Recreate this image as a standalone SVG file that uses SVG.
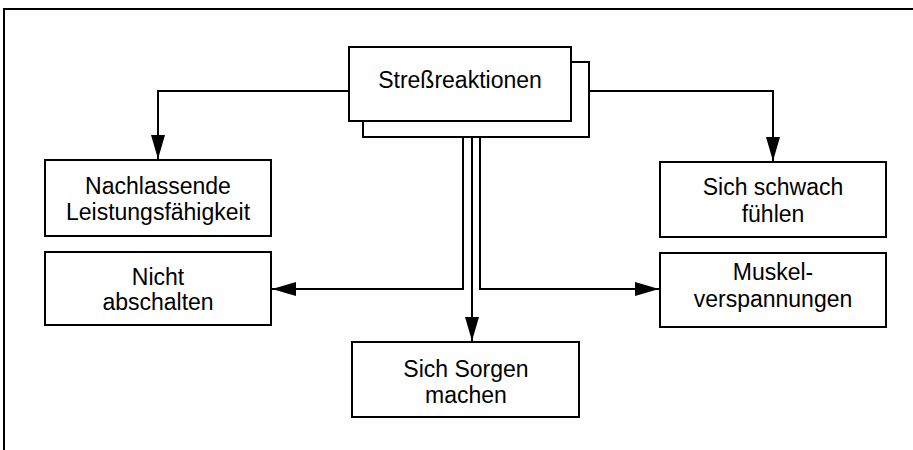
<svg xmlns="http://www.w3.org/2000/svg" width="913" height="450" viewBox="0 0 913 450">
<defs>
<style>
.box{fill:#fff;stroke:#000;stroke-width:2}
.ln{fill:none;stroke:#000;stroke-width:2}
text{font-family:"Liberation Sans",Arial,sans-serif;font-size:23px;fill:#000;text-anchor:middle}
</style>
<marker id="ah" viewBox="0 0 24 14" refX="24" refY="7" markerWidth="24" markerHeight="14" markerUnits="userSpaceOnUse" orient="auto">
<path d="M0,0 L24,7 L0,14 Z" fill="#000"/>
</marker>
</defs>
<rect width="913" height="450" fill="#fff"/>
<path class="ln" d="M4,450 V9 H913"/>
<g id="connectors">
<path class="ln" d="M349,91 H158 V159" marker-end="url(#ah)"/>
<path class="ln" d="M589,91 H773 V161" marker-end="url(#ah)"/>
<path class="ln" d="M463,137 V289 H272" marker-end="url(#ah)"/>
<path class="ln" d="M472,137 V341" marker-end="url(#ah)"/>
<path class="ln" d="M480,137 V289 H659" marker-end="url(#ah)"/>
</g>
<g id="stressreaktionen">
<rect class="box" x="363" y="62" width="226" height="75"/>
<rect class="box" x="349" y="47" width="222" height="74"/>
<text x="460" y="88">Streßreaktionen</text>
</g>
<g id="nachlassende">
<rect class="box" x="45" y="160" width="226" height="76"/>
<text x="158" y="194">Nachlassende</text>
<text x="158" y="220">Leistungsfähigkeit</text>
</g>
<g id="nicht-abschalten">
<rect class="box" x="45" y="252" width="226" height="73"/>
<text x="158" y="285">Nicht</text>
<text x="158" y="310">abschalten</text>
</g>
<g id="sorgen">
<rect class="box" x="352" y="342" width="227" height="75"/>
<text x="466" y="377">Sich Sorgen</text>
<text x="466" y="403">machen</text>
</g>
<g id="schwach">
<rect class="box" x="660" y="162" width="226" height="75"/>
<text x="773" y="195">Sich schwach</text>
<text x="773" y="222">fühlen</text>
</g>
<g id="muskel">
<rect class="box" x="660" y="253" width="226" height="74"/>
<text x="773" y="280">Muskel-</text>
<text x="773" y="307">verspannungen</text>
</g>
</svg>
